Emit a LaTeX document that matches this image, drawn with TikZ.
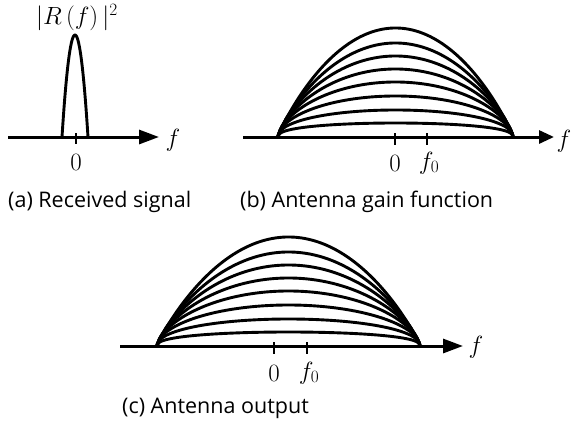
\documentclass[tikz,border=0pt]{standalone}
\usepackage{fontspec}
\setmainfont{Open Sans}
\usetikzlibrary{arrows.meta}
\newcommand{\bundle}[3]{% #1 left foot x, #2 width, #3 axis y
  \foreach \h in {109,94,81,68,55,41,27,14}{%
    \pgfmathsetmacro{\pp}{0.4+0.5*(\h-14)/95}%
    \draw[curve] (#1,#3) -- plot[domain=0.001:0.999, samples=120] ({#1+#2*\x},{#3-\h*(4*\x*(1-\x))^\pp}) -- (#1+#2,#3);
  }%
}
\begin{document}
\begin{tikzpicture}[x=1pt,y=-1pt,
  axis/.style={line width=3pt,-{Triangle[length=20pt,width=14pt]}},
  axisb/.style={line width=3pt,-{Triangle[length=15pt,width=13pt]}},
  curve/.style={line width=2.9pt, line join=round},
  tickmark/.style={line width=2pt},
  lab/.style={font=\fontsize{27}{32}\selectfont, inner sep=0pt},
  captext/.style={font=\fontsize{21.5}{25}\selectfont, inner sep=0pt, anchor=west}]
\useasboundingbox (0,0) rectangle (571,426);
% ---------- panel (a)
\coordinate (a0) at (8,137);
\coordinate (a1) at (159,137);
\draw[axis] (a0) -- (a1);
\coordinate (at0) at (76,133);
\coordinate (at1) at (76,144);
\draw[tickmark] (at0) -- (at1);
\node[lab] (azero) at (76,162) {$0$};
\node[lab] (af) at (173,140) {$f$};
\node[lab] (R) at (77,18) {$|R\,(f)\,|^2$};
\draw[curve] plot[domain=-1:1, samples=60] ({75+13*\x},{137-102*(1-\x*\x)});
\node[captext] (capa) at (8,202) {(a) Received signal};
% ---------- panel (b)
\coordinate (b0) at (243,137);
\coordinate (b1) at (554,137);
\draw[axisb] (b0) -- (b1);
\bundle{278}{235}{137}
\coordinate (bt0) at (395,133);
\coordinate (bt1) at (395,145);
\draw[tickmark] (bt0) -- (bt1);
\coordinate (bt2) at (427,133);
\coordinate (bt3) at (427,145);
\draw[tickmark] (bt2) -- (bt3);
\node[lab] (bzero) at (395,163) {$0$};
\node[lab] (bfz) at (429,163) {$f_0$};
\node[lab] (bf) at (564,141) {$f$};
\node[captext] (capb) at (240,202) {(b) Antenna gain function};
% ---------- panel (c)
\coordinate (c0) at (120,346);
\coordinate (c1) at (463,346);
\draw[axis] (c0) -- (c1);
\bundle{157}{263}{346}
\coordinate (ct0) at (274,342);
\coordinate (ct1) at (274,354);
\draw[tickmark] (ct0) -- (ct1);
\coordinate (ct2) at (307,342);
\coordinate (ct3) at (307,354);
\draw[tickmark] (ct2) -- (ct3);
\node[lab] (czero) at (274,373) {$0$};
\node[lab] (cfz) at (309,373) {$f_0$};
\node[lab] (cf) at (476,347) {$f$};
\node[captext] (capc) at (122,408) {(c) Antenna output};
\end{tikzpicture}
\end{document}
